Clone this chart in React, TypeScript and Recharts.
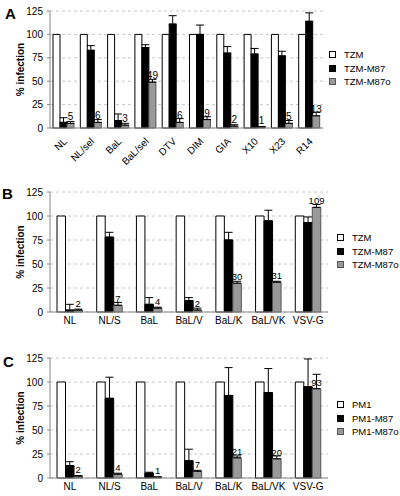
import React from 'react'
import {
  BarChart, Bar, XAxis, YAxis, CartesianGrid, ErrorBar, LabelList
} from 'recharts'

const FONT = '"Liberation Sans", Arial, sans-serif'

// panel A
const catsA = ['NL', 'NL/sel', 'BaL', 'BaL/sel', 'DTV', 'DIM', 'GIA', 'X10', 'X23', 'R14']
const ctrlA = [100, 100, 100, 100, 100, 100, 100, 100, 100, 100]
const m87A = [6, 83, 8, 86, 111, 100, 80, 79, 77, 114]
const m87ErrA = [5, 5, 7, 3, 9, 10, 7, 6, 5, 9]
const m87oA = [5, 6, 3, 49, 6, 9, 2, 1, 5, 13]
const m87oErrA = [2, 3, 2, 3, 4, 3, 1.5, 0.5, 3, 4]
const namesA = ['TZM', 'TZM-M87', 'TZM-M87o']

// panel B
const catsB = ['NL', 'NL/S', 'BaL', 'BaL/V', 'BaL/K', 'BaL/VK', 'VSV-G']
const ctrlB = [100, 100, 100, 100, 100, 100, 100]
const m87B = [2, 78, 8, 12, 75, 95, 93]
const m87ErrB = [6, 5, 7, 3, 8, 11, 6]
const m87oB = [2, 7, 4, 2, 30, 31, 109]
const m87oErrB = [1, 3, 1, 2, 2, 1, 3]
const namesB = ['TZM', 'TZM-M87', 'TZM-M87o']

// panel C
const catsC = ['NL', 'NL/S', 'BaL', 'BaL/V', 'BaL/K', 'BaL/VK', 'VSV-G']
const ctrlC = [100, 100, 100, 100, 100, 100, 100]
const m87C = [13, 83, 5, 18, 86, 89, 95]
const m87ErrC = [4, 22, 1, 12, 29, 25, 29]
const m87oC = [2, 4, 1, 7, 21, 20, 93]
const m87oErrC = [0.5, 1, 0, 1, 2, 3, 15]
const namesC = ['PM1', 'PM1-M87', 'PM1-M87o']

const yTicks = [0, 25, 50, 75, 100, 125]
const fills = ['#ffffff', '#000000', '#999999']
const strokes = ['#000000', '#000000', '#555555']

const build = (cats: string[], c: number[], b: number[], be: number[], g: number[], ge: number[]) =>
  cats.map((name, i) => ({
    name, ctrl: c[i], m87: b[i], m87Err: [0, be[i]], m87o: g[i], m87oErr: [0, ge[i]],
  }))

const RotTick = (props: any) => {
  const { x, y, payload } = props
  return (
    <g transform={`translate(${x + 4},${y + 14})`}>
      <text x={0} y={0} textAnchor="end" transform="rotate(-45)"
        fontSize={10} fontFamily={FONT} fill="#000">{payload.value}</text>
    </g>
  )
}

const LegendBox = ({ names, left, top }: { names: string[], left: number, top: number }) => (
  <div style={{ position: 'absolute', left, top, fontFamily: FONT, fontSize: 9.5, color: '#000' }}>
    {names.map((n, i) => (
      <div key={n} style={{ display: 'flex', alignItems: 'center', height: 13.5, whiteSpace: 'nowrap' }}>
        <span style={{
          display: 'inline-block', width: 5, height: 5, marginRight: 8,
          background: fills[i], border: `1px solid ${strokes[i]}`,
        }} />
        {n}
      </div>
    ))}
  </div>
)

type PanelProps = {
  data: any[]
  top: number
  height: number
  marginTop: number
  marginRight: number
  xHeight: number
  barSize: number
  rotated?: boolean
  labelSize: number
}

const Panel = (p: PanelProps) => (
  <div style={{ position: 'absolute', left: 0, top: p.top }}>
    <BarChart width={400} height={p.height} data={p.data} barGap={0} barSize={p.barSize}
      margin={{ top: p.marginTop, right: p.marginRight, left: 0, bottom: 0 }}>
      <CartesianGrid vertical={false} stroke="#c8c8c8" strokeDasharray="3 3" />
      <XAxis dataKey="name" interval={0} height={p.xHeight} stroke="#888"
        tickLine={false} tickSize={0} tickMargin={p.rotated ? 0 : 5}
        tick={p.rotated ? <RotTick /> : { fontSize: 10, fontFamily: FONT, fill: '#000' }} />
      <YAxis domain={[0, 125]} ticks={yTicks} width={50} stroke="#888" tickSize={3} tickMargin={4}
        tick={{ fontSize: 10, fontFamily: FONT, fill: '#000' }}
        label={{ value: '% infection', angle: -90, position: 'center', dx: -5,
          style: { fontSize: 10, fontWeight: 'bold', fontFamily: FONT, fill: '#000' } }} />
      <Bar dataKey="ctrl" fill={fills[0]} stroke={strokes[0]} isAnimationActive={false} />
      <Bar dataKey="m87" fill={fills[1]} stroke={strokes[1]} isAnimationActive={false}>
        <ErrorBar dataKey="m87Err" width={4} stroke="#000" strokeWidth={1} direction="y" />
      </Bar>
      <Bar dataKey="m87o" fill={fills[2]} stroke={strokes[2]} isAnimationActive={false}>
        <ErrorBar dataKey="m87oErr" width={4} stroke="#000" strokeWidth={1} direction="y" />
        <LabelList dataKey="m87o" position="top" offset={3}
          style={{ fontSize: p.labelSize, fontFamily: FONT, fill: '#000' }} />
      </Bar>
    </BarChart>
  </div>
)

const letterStyle = (left: number, top: number): React.CSSProperties => ({
  position: 'absolute', left, top, fontFamily: FONT, fontWeight: 'bold', fontSize: 15, lineHeight: '17px',
})

export default function App() {
  const dataA = build(catsA, ctrlA, m87A, m87ErrA, m87oA, m87oErrA)
  const dataB = build(catsB, ctrlB, m87B, m87ErrB, m87oB, m87oErrB)
  const dataC = build(catsC, ctrlC, m87C, m87ErrC, m87oC, m87oErrC)
  return (
    <div style={{ position: 'absolute', left: 0, top: 0, width: 400, height: 496, background: '#fff' }}>
      <Panel data={dataB} top={165} height={169} marginTop={27} marginRight={72}
        xHeight={22} barSize={8.5} labelSize={9.5} />
      <Panel data={dataC} top={334} height={162} marginTop={24} marginRight={72}
        xHeight={18} barSize={8.5} labelSize={9.5} />
      <Panel data={dataA} top={0} height={174} marginTop={11} marginRight={77}
        xHeight={46} barSize={7} rotated labelSize={10} />
      <LegendBox names={namesA} left={329} top={48} />
      <LegendBox names={namesB} left={337} top={231} />
      <LegendBox names={namesC} left={337} top={398} />
      <div style={letterStyle(5, 5)}>A</div>
      <div style={letterStyle(2, 185)}>B</div>
      <div style={letterStyle(3, 353)}>C</div>
    </div>
  )
}
